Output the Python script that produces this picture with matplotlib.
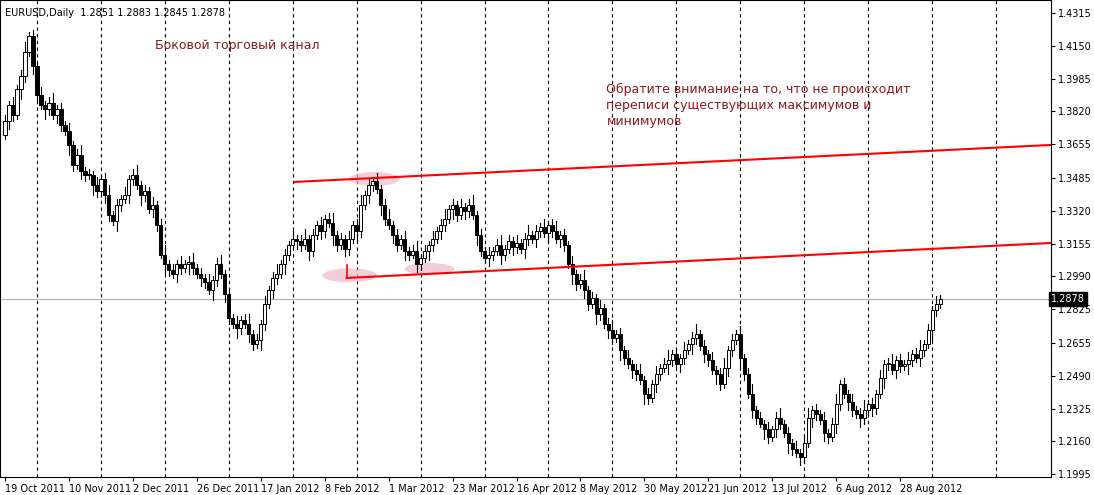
import matplotlib
matplotlib.use("Agg")
import matplotlib.pyplot as plt
from matplotlib.patches import Ellipse, Rectangle

closes = [1.377,1.385,1.380,1.393, 1.400,1.412,1.420, 1.405,1.390,1.385,1.383,
1.386,1.380,1.383,1.375,1.372, 1.365,1.355,1.360,1.352,1.350,
1.350,1.345,1.342,1.348,1.340, 1.330,1.327,1.335,1.338,1.340,
1.348,1.350,1.345,1.340,1.342, 1.333,1.335,1.325,1.310,1.305,
1.302,1.300,1.305,1.303,1.305, 1.306,1.303,1.300,1.298,1.296,
1.292,1.297,1.305,1.300,1.290, 1.278,1.275,1.273,1.277,1.275,
1.270,1.265,1.267,1.275,1.285, 1.292,1.298,1.300,1.305,1.310,
1.315,1.318,1.317,1.315,1.318, 1.312,1.320,1.325,1.322,1.328,
1.326,1.320,1.315,1.318,1.313, 1.318,1.325,1.322,1.335,1.340,
1.345,1.347,1.343,1.335,1.328, 1.325,1.320,1.315,1.318,1.312,
1.310,1.312,1.305,1.308,1.312, 1.315,1.318,1.322,1.325,1.328,
1.333,1.335,1.330,1.334,1.332, 1.335,1.330,1.320,1.312,1.308,
1.310,1.312,1.315,1.310,1.313, 1.317,1.314,1.316,1.313,1.318,
1.320,1.318,1.322,1.324,1.321, 1.325,1.322,1.318,1.320,1.315,
1.305,1.300,1.295,1.297,1.292, 1.285,1.288,1.280,1.283,1.275,
1.272,1.268,1.270,1.262,1.258, 1.255,1.252,1.250,1.247,1.240,
1.238,1.245,1.250,1.253,1.255, 1.257,1.260,1.255,1.258,1.262,
1.265,1.268,1.270,1.264,1.260, 1.257,1.252,1.250,1.245,1.253,
1.262,1.267,1.270,1.258,1.250, 1.240,1.232,1.228,1.225,1.222,
1.218,1.222,1.228,1.225,1.220, 1.215,1.212,1.210,1.208,1.215,
1.228,1.232,1.230,1.227,1.220, 1.218,1.225,1.235,1.245,1.240,
1.236,1.232,1.230,1.228,1.232, 1.235,1.233,1.240,1.248,1.255,
1.255,1.252,1.257,1.254,1.255, 1.257,1.260,1.258,1.262,1.265,
1.272,1.282,1.285,1.2878]
first_open = 1.370
wick_up = [0.003,0.002,0.004,0.002,0.003,0.005,0.002]
wick_dn = [0.002,0.004,0.003,0.002,0.005,0.003]

date_labels = ["19 Oct 2011","10 Nov 2011","2 Dec 2011","26 Dec 2011","17 Jan 2012",
"8 Feb 2012","1 Mar 2012","23 Mar 2012","16 Apr 2012","8 May 2012","30 May 2012",
"21 Jun 2012","13 Jul 2012","6 Aug 2012","28 Aug 2012"]
price_ticks = [1.4315,1.4150,1.3985,1.3820,1.3655,1.3485,1.3320,1.3155,1.2990,
1.2825,1.2655,1.2490,1.2325,1.2160,1.1995]
last_price = 1.2878
upper_line = ((72.5, 1.3465), (261.75, 1.3651))
lower_line = ((85.5, 1.2982), (261.75, 1.3158))

fig = plt.figure(figsize=(10.94, 4.95), dpi=100)
ax = fig.add_axes([0.0, 18/495, 1051/1094, 477/495])
ax.set_xlim(-1.25, 261.75)
ax.set_ylim(1.1981, 1.4380)

for k in range(17):
    ax.axvline(8 + 16*k, color='black', ls=(0, (3, 3)), lw=0.8, zorder=0)
ax.axhline(last_price, color='#b0b0b0', lw=0.8, zorder=0)

prev = first_open
for i, c in enumerate(closes):
    o = prev
    hi = max(o, c) + wick_up[i % len(wick_up)]
    lo = min(o, c) - wick_dn[i % len(wick_dn)]
    ax.plot([i, i], [lo, hi], color='black', lw=0.8, zorder=2)
    bot = min(o, c); h = max(abs(c-o), 0.0004)
    ax.add_patch(Rectangle((i-0.4, bot), 0.8, h,
                 facecolor='white' if c >= o else 'black', edgecolor='black', lw=0.7, zorder=3))
    prev = c

for (x0, y0), (x1, y1) in (upper_line, lower_line):
    ax.plot([x0, x1], [y0, y1], color='red', lw=1.5, zorder=4)
ax.plot([85.5, 85.5], [1.2982, 1.3048], color='red', lw=1.2, zorder=4)

for (x, y, w, h) in [(92.5, 1.3480, 12.5, 0.007), (86.25, 1.2995, 13.75, 0.007), (106.25, 1.3027, 12.5, 0.006)]:
    ax.add_patch(Ellipse((x, y), w, h, facecolor='#f0b8cc', alpha=0.7, edgecolor='none', zorder=1))

ax.yaxis.tick_right()
ax.set_yticks(price_ticks)
ax.set_yticklabels([f"{p:.4f}" for p in price_ticks], fontsize=7)
ax.set_xticks([16*k for k in range(len(date_labels))])
ax.set_xticklabels(date_labels, fontsize=7, ha='left')
ax.tick_params(length=3, pad=2)
ax.text(1.0, last_price, f"{last_price:.4f}", transform=ax.get_yaxis_transform(),
        fontsize=7, color='white', va='center', ha='left',
        bbox=dict(facecolor='black', edgecolor='black', pad=1.5))

ax.text(0, 1.4315, "EURUSD,Daily  1.2851 1.2883 1.2845 1.2878", fontsize=7, va='center')
ax.text(37.5, 1.4150, "Боковой торговый канал", fontsize=9, color='#8b1a1a', va='center')
ax.text(150.5, 1.3962, "Обратите внимание на то, что не происходит\nпереписи существующих максимумов и\nминимумов",
        fontsize=9, color='#8b1a1a', va='top', linespacing=1.3)
fig.savefig("out.png", dpi=100)
